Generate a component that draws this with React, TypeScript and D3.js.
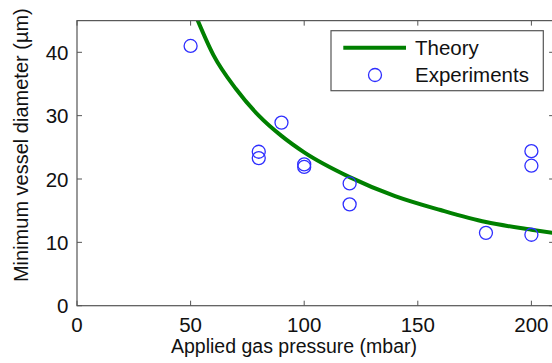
import React from 'react';
import * as d3 from 'd3';

const expPressure = [50, 80, 80, 90, 100, 100, 120, 120, 180, 200, 200, 200];
const expDiameter = [41.0, 24.3, 23.3, 28.9, 22.3, 21.9, 19.3, 16.0, 11.5, 11.2, 24.4, 22.1];

// theory curve
const theoryPressure = [52, 60, 70, 80, 90, 100, 120, 140, 160, 180, 200, 215];
const theoryDiameter = [46.0, 39.6, 34.2, 30.0, 26.8, 24.2, 20.3, 17.3, 15.1, 13.2, 12.0, 11.2];

const xTicks = [0, 50, 100, 150, 200];
const yTicks = [0, 10, 20, 30, 40];

const W = 552;
const H = 363;
const left = 77;
const bottom = 305.7;
const font = '"Liberation Sans", Arial, Helvetica, sans-serif';
const axisColor = '#555';

export default function App() {
	const x = d3.scaleLinear().domain([0, 210]).range([left, left + 2.272 * 210]);
	const y = d3.scaleLinear().domain([0, 45]).range([bottom, bottom - 6.335 * 45]);
	const [x0, x1] = x.range();
	const [y0, y1] = y.range();

	const line = d3.line<number>()
		.x((_, i) => x(theoryPressure[i]))
		.y(d => y(d))
		.curve(d3.curveMonotoneX);

	return (
		<svg width={W} height={H} style={{ position: 'absolute', left: 0, top: 0, background: '#fff' }}>
			<defs>
				<clipPath id="plot">
					<rect x={x0} y={y1} width={x1 - x0} height={y0 - y1} />
				</clipPath>
			</defs>

			<g clipPath="url(#plot)">
				<path d={line(theoryDiameter) || ''} fill="none" stroke="#008000" strokeWidth={4} />
				{expPressure.map((p, i) => (
					<circle key={i} cx={x(p)} cy={y(expDiameter[i])} r={6.5} fill="none" stroke="#2f2fff" strokeWidth={1.3} />
				))}
			</g>

			{/* box */}
			<rect x={x0} y={y1} width={x1 - x0} height={y0 - y1} fill="none" stroke={axisColor} strokeWidth={1.2} />

			{xTicks.map(t => (
				<g key={'x' + t}>
					<line x1={x(t)} x2={x(t)} y1={y0} y2={y0 - 5} stroke={axisColor} />
					<line x1={x(t)} x2={x(t)} y1={y1} y2={y1 + 5} stroke={axisColor} />
					<text x={x(t)} y={331.5} textAnchor="middle" fontFamily={font} fontSize={20.5} fill="#111">{t}</text>
				</g>
			))}
			{yTicks.map(t => (
				<g key={'y' + t}>
					<line x1={x0} x2={x0 + 5} y1={y(t)} y2={y(t)} stroke={axisColor} />
					<line x1={x1} x2={x1 - 5} y1={y(t)} y2={y(t)} stroke={axisColor} />
					<text x={68.5} y={y(t) + 7.5} textAnchor="end" fontFamily={font} fontSize={20.5} fill="#111">{t}</text>
				</g>
			))}

			<text x={294} y={353} textAnchor="middle" fontFamily={font} fontSize={19.5} fill="#111">Applied gas pressure (mbar)</text>
			<text transform={`translate(28,${(y0 + y1) / 2 - 18}) rotate(-90)`} textAnchor="middle" fontFamily={font} fontSize={20} fill="#111">
				Minimum vessel diameter (µm)
			</text>

			{/* legend */}
			<g>
				<rect x={331} y={30.7} width={212.3} height={60} fill="#fff" stroke={axisColor} strokeWidth={1.2} />
				<line x1={343.3} x2={406} y1={47.7} y2={47.7} stroke="#008000" strokeWidth={4} />
				<circle cx={375} cy={75} r={6.5} fill="none" stroke="#2f2fff" strokeWidth={1.3} />
				<text x={415} y={55} fontFamily={font} fontSize={20.5} fill="#111">Theory</text>
				<text x={415} y={82} fontFamily={font} fontSize={20.5} fill="#111">Experiments</text>
			</g>
		</svg>
	);
}
